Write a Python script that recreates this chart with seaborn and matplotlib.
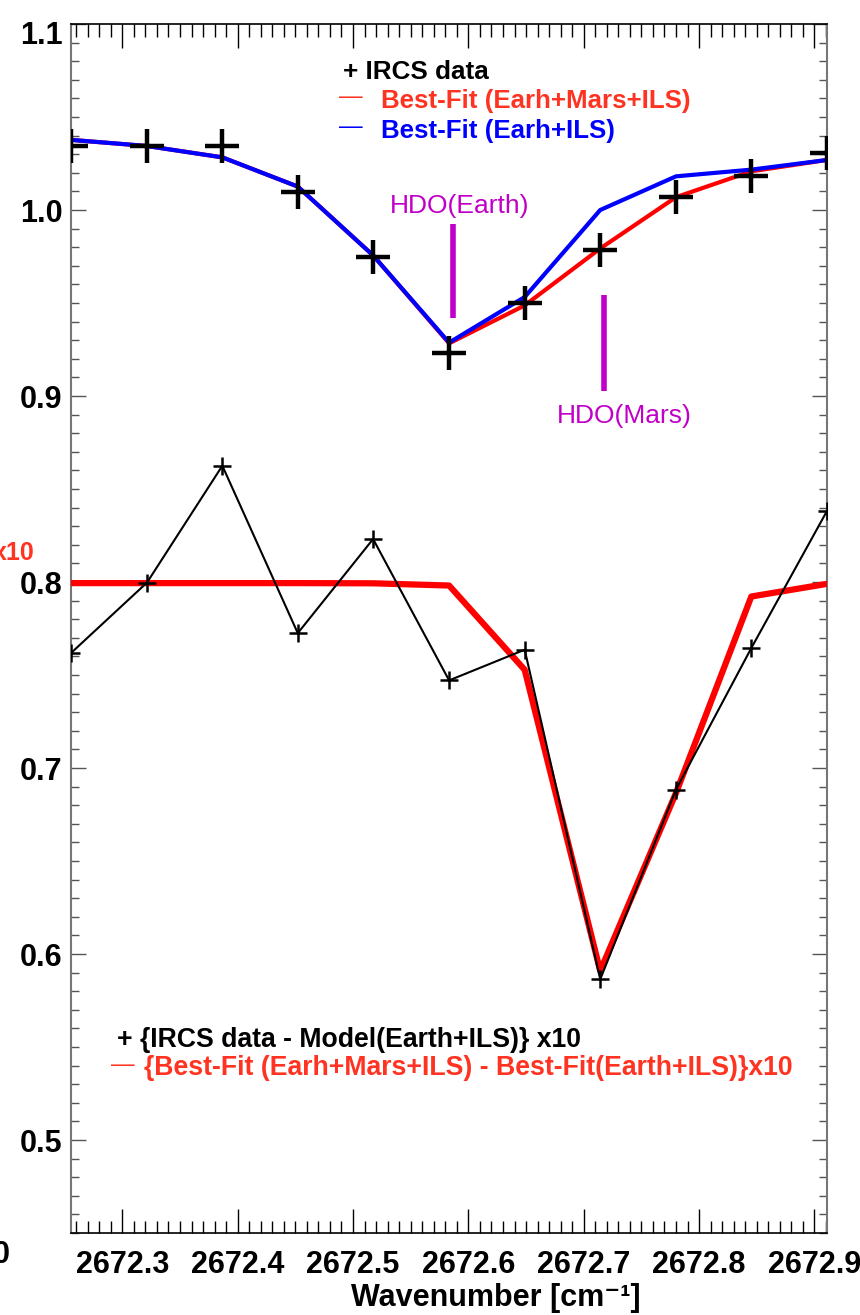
import numpy as np
import pandas as pd
import matplotlib
matplotlib.use("Agg")
import matplotlib.pyplot as plt
import matplotlib.transforms as mtransforms
from matplotlib.ticker import MultipleLocator, FormatStrFormatter
import seaborn as sns

# ---------------- data ----------------
wavenumber = [2672.2555, 2672.3214, 2672.3867, 2672.4521, 2672.5174, 2672.5833,
              2672.6488, 2672.7143, 2672.7800, 2672.8453, 2672.9109]
ircs_data = [1.0346, 1.0346, 1.0344, 1.0099, 0.9750, 0.9231,
             0.9500, 0.9786, 1.0069, 1.0181, 1.0307]
fit_earth_mars = [1.0377, 1.0344, 1.0283, 1.0126, 0.9756, 0.9283,
                  0.9487, 0.9793, 1.0069, 1.0208, 1.0269]
fit_earth = [1.0377, 1.0344, 1.0283, 1.0126, 0.9756, 0.9287,
             0.9532, 1.0000, 1.0181, 1.0217, 1.0269]
resid_data = [0.7618, 0.7997, 0.8625, 0.7725, 0.8231, 0.7471,
              0.7636, 0.5864, 0.6884, 0.7645, 0.8382]
resid_model = [0.7994, 0.7994, 0.7994, 0.7994, 0.7993, 0.7981,
               0.7528, 0.5909, 0.6866, 0.7922, 0.7990]
hdo_x = [2672.587, 2672.7178]
hdo_ymin = [0.9418, 0.9027]
hdo_ymax = [0.9927, 0.9541]
hdo_labels = ["HDO(Earth)", "HDO(Mars)"]
yticks = [0.5, 0.6, 0.7, 0.8, 0.9, 1.0, 1.1]
xticks = [2672.3, 2672.4, 2672.5, 2672.6, 2672.7, 2672.8, 2672.9]

df = pd.DataFrame({"x": wavenumber, "data": ircs_data, "fit_em": fit_earth_mars,
                   "fit_e": fit_earth, "rdata": resid_data, "rmodel": resid_model})

# ---------------- style ----------------
sns.set_style("white")
plt.rcParams["font.family"] = ["Liberation Sans", "DejaVu Sans"]

W, H = 860, 1315
fig = plt.figure(figsize=(W / 100, H / 100), dpi=100)
ax = fig.add_axes([71 / W, 1 - 1233 / H, (827 - 71) / W, (1233 - 24) / H])

RED = "#FF0000"
RED_TXT = "#FF3322"
BLUE = "#0000FF"
MAG = "#C000C8"

# top panel: fits and data
sns.lineplot(data=df, x="x", y="fit_em", ax=ax, color=RED, lw=3.0,
             sort=False, estimator=None, zorder=3)
sns.lineplot(data=df, x="x", y="fit_e", ax=ax, color=BLUE, lw=3.0,
             sort=False, estimator=None, zorder=4)
sns.scatterplot(data=df, x="x", y="data", ax=ax, marker="+", s=600,
                color="black", linewidth=3.2, zorder=5)

# residuals
sns.lineplot(data=df, x="x", y="rmodel", ax=ax, color=RED, lw=4.5,
             sort=False, estimator=None, zorder=3)
sns.lineplot(data=df, x="x", y="rdata", ax=ax, color="black", lw=1.5,
             sort=False, estimator=None, marker="+", markersize=13,
             markeredgewidth=1.8, markeredgecolor="black", zorder=4)

# HDO markers
ax.vlines(hdo_x, hdo_ymin, hdo_ymax, color=MAG, lw=4.0, zorder=2)

# ---------------- axes ----------------
ax.set_xlim(wavenumber[0], wavenumber[-1])
ax.set_ylim(0.45, 1.1)
ax.set_xticks(xticks)
ax.set_yticks(yticks)
ax.xaxis.set_minor_locator(MultipleLocator(0.01))
ax.yaxis.set_minor_locator(MultipleLocator(0.01))
ax.xaxis.set_major_formatter(FormatStrFormatter("%.1f"))
ax.yaxis.set_major_formatter(FormatStrFormatter("%.1f"))
ax.tick_params(axis="x", which="major", direction="in", length=17, width=1.0,
               top=True, bottom=True, labelsize=22, pad=12, color="black")
ax.tick_params(axis="x", which="minor", direction="in", length=9, width=1.0,
               top=True, bottom=True, color="black")
ax.tick_params(axis="y", which="major", direction="in", length=11, width=1.0,
               left=True, right=True, labelsize=22, pad=6, color="#555555")
ax.tick_params(axis="y", which="minor", direction="in", length=5.5, width=1.0,
               left=True, right=True, color="#555555")
for lab in ax.get_xticklabels() + ax.get_yticklabels():
    lab.set_fontweight("bold")
    lab.set_color("black")
# the topmost y label sits a little below its tick in the reference
top_lab = ax.yaxis.get_major_ticks()[-1].label1
top_lab.set_transform(top_lab.get_transform() +
                      mtransforms.ScaledTranslation(0, -8 / 100, fig.dpi_scale_trans))

for side in ["left", "right"]:
    ax.spines[side].set_color("#777777")
    ax.spines[side].set_linewidth(1.5)
for side in ["top", "bottom"]:
    ax.spines[side].set_color("black")
    ax.spines[side].set_linewidth(1.2)

ax.set_ylabel("")
ax.set_xlabel("")


def ftext(px, py, s, **kw):
    fig.text(px / W, 1 - py / H, s, **kw)


# x-axis title
ftext(496, 1298, "Wavenumber [cm\u207b\u00b9]", fontsize=22, fontweight="bold",
      color="black", ha="center", va="center",
      family=["Liberation Sans", "DejaVu Sans"])

# legend texts (top)
ftext(343, 72, "+ IRCS data", fontsize=18.8, fontweight="bold", color="black", va="center")
ftext(339, 97, "\u2014", fontsize=17, color=RED_TXT, va="center")
ftext(381, 101, "Best-Fit (Earh+Mars+ILS)", fontsize=18.6, fontweight="bold",
      color=RED_TXT, va="center")
ftext(339, 127, "\u2014", fontsize=17, color=BLUE, va="center")
ftext(381, 131, "Best-Fit (Earh+ILS)", fontsize=18.6, fontweight="bold",
      color=BLUE, va="center")

# HDO labels
ftext(460, 206, hdo_labels[0], fontsize=19, color=MAG, ha="center", va="center")
ftext(624, 416, hdo_labels[1], fontsize=19, color=MAG, ha="center", va="center")

# legend texts (bottom)
ftext(117, 1040, "+ {IRCS data - Model(Earth+ILS)} x10", fontsize=19.2,
      fontweight="bold", color="black", va="center")
ftext(111, 1065, "\u2014", fontsize=17, color=RED_TXT, va="center")
ftext(144, 1068, "{Best-Fit (Earh+Mars+ILS) - Best-Fit(Earth+ILS)}x10", fontsize=19.2,
      fontweight="bold", color=RED_TXT, va="center")

# fragments from a neighbouring panel cut at the left edge (cut in the reference too)
ftext(35, 553, "x10", fontsize=18, fontweight="bold", color=RED_TXT, ha="right", va="center")
ftext(10, 1255, "0", fontsize=22, fontweight="bold", color="black", ha="right", va="center")

fig.savefig("out.png", dpi=100)
